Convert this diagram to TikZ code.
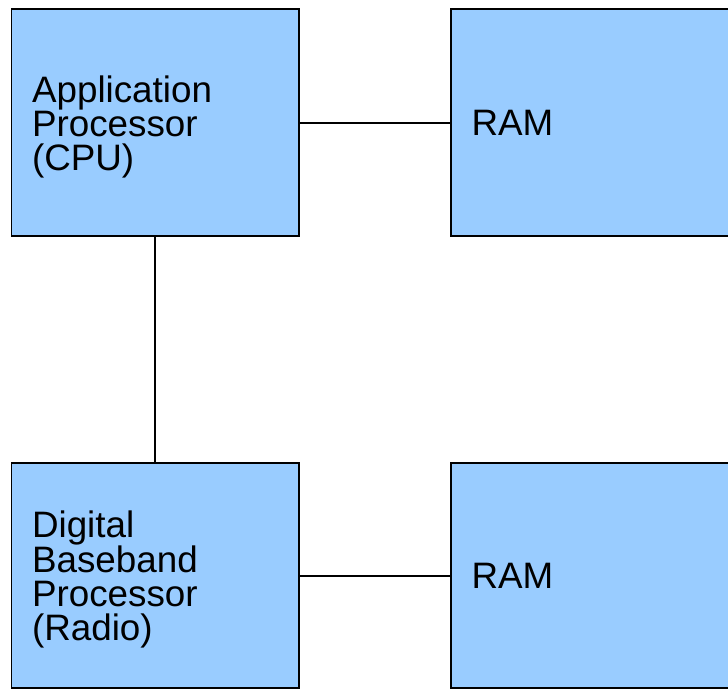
\documentclass[tikz,border=0pt]{standalone}
\usepackage{fontspec}
\setmainfont{Liberation Sans}
\definecolor{boxblue}{HTML}{99CCFF}
\newcommand{\toppad}{\rule{0pt}{26pt}}
\begin{document}
\begin{tikzpicture}[x=0.75pt,y=-0.75pt,
  box/.style={draw=black, fill=boxblue, line width=1.4pt, anchor=north west,
    align=left, inner xsep=15.4pt, inner ysep=0pt, outer sep=0pt,
    font=\fontsize{27.6}{25.5}\selectfont},
  link/.style={draw=black, line width=1.1pt}]
\useasboundingbox (0,0) rectangle (728,689);
\clip (0,0) rectangle (728,689);
\node[box, text width=184.8pt, minimum height=170.25pt] (cpu) at (11.5,9) {\toppad Application\\Processor\\(CPU)};
\node[box, text width=201pt, minimum height=170.25pt] (ram1) at (451,9) {RAM};
\node[box, text width=184.8pt, minimum height=168.75pt] (dbp) at (11.5,463) {\toppad Digital\\Baseband\\Processor\\(Radio)};
\node[box, text width=201pt, minimum height=168.75pt] (ram2) at (451,463) {RAM};
\draw[link] (cpu.east |- 0,123) -- (ram1.west |- 0,123);
\draw[link] (dbp.east |- 0,576) -- (ram2.west |- 0,576);
\draw[link] (cpu.south -| 155,0) -- (dbp.north -| 155,0);
\end{tikzpicture}
\end{document}
